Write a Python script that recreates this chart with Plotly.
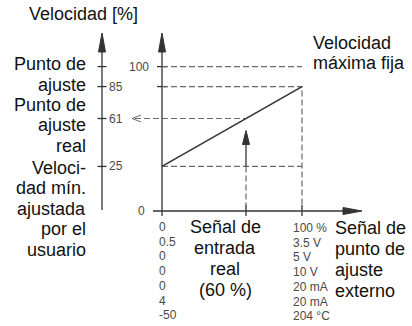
import plotly.graph_objects as go

# datos del diagrama
senal = [0, 100]          # señal de punto de ajuste externo [%]
velocidad = [25, 85]      # velocidad [%]
senal_real = 60
velocidad_real = 61
velocidad_max = 100
ticks_izq = [25, 61, 85]
ticks_izq_txt = ["25", "61", "85"]
ticks_eje = [0, 100]
ticks_eje_txt = ["0", "100"]
senal_min_txt = ["0", "0.5", "0", "0", "0", "4", "-50"]
senal_max_txt = ["100 %", "3.5 V", "5 V", "10 V", "20 mA", "20 mA", "204 °C"]

W, H = 412, 326
ML, MR, MT, MB = 92, 40, 28, 100
X0_PX, X_ESC = 162, 1.4       # pixel del 0 en x, px por unidad
Y0_PX, Y_ESC = 199.7, 1.331   # pixel del 0 en y, px por unidad
EJE_PX = 211                  # el eje x va en la base (esquemático)


def px2x(px):
    return (px - X0_PX) / X_ESC


def px2y(py):
    return (Y0_PX - py) / Y_ESC


def x2px(x):
    return X0_PX + x * X_ESC


def y2px(y):
    return Y0_PX - y * Y_ESC


eje_y = px2y(EJE_PX)

OSCURO = "#333333"
GRIS = "#6a6a6a"
TXT = "#111111"
TXT_GRIS = "#4a4a4a"
FUENTE = "Liberation Sans, Arial, sans-serif"
DASH = "6px,3px"

fig = go.Figure()


def linea(xs, ys, color=OSCURO, width=1.3, dash="solid"):
    fig.add_trace(go.Scatter(x=xs, y=ys, mode="lines", hoverinfo="skip",
                             line=dict(color=color, width=width, dash=dash)))


def punta(tx, ty, direc, largo=19, media=3.5):
    # punta de flecha rellena, medidas en px
    px, py = x2px(tx), y2px(ty)
    if direc == "arriba":
        xs = [px - media, px, px + media, px - media]
        ys = [py + largo, py, py + largo, py + largo]
    else:
        xs = [px - largo, px, px - largo, px - largo]
        ys = [py - media, py, py + media, py - media]
    fig.add_trace(go.Scatter(x=[px2x(v) for v in xs], y=[px2y(v) for v in ys],
                             mode="lines", fill="toself", fillcolor=OSCURO,
                             line=dict(color=OSCURO, width=1), hoverinfo="skip"))


x_izq = px2x(102)

# ejes
linea([0, 0], [px2y(EJE_PX + 5), px2y(50)])
punta(0, px2y(33), "arriba")
linea([x_izq, x_izq], [px2y(EJE_PX - 1), px2y(50)])
punta(x_izq, px2y(33), "arriba")
linea([px2x(153), px2x(345)], [eje_y, eje_y])
punta(px2x(362), eje_y, "derecha")

# marcas
for v in [velocidad_max, velocidad[1]]:
    linea([px2x(157), px2x(167)], [v, v])
for v in [velocidad_max] + ticks_izq:
    linea([x_izq - 4.5 / X_ESC, x_izq + 4.5 / X_ESC], [v, v])
for v in [senal_real, senal[1]]:
    linea([v, v], [px2y(EJE_PX - 6), px2y(EJE_PX + 5)])

# líneas de referencia discontinuas
linea([0, senal[1]], [velocidad_max, velocidad_max], GRIS, 1.2, DASH)
linea([0, senal[1], senal[1]], [velocidad[1], velocidad[1], eje_y], GRIS, 1.2, DASH)
linea([0, senal[1]], [velocidad[0], velocidad[0]], GRIS, 1.2, DASH)
linea([px2x(135), senal_real], [velocidad_real, velocidad_real], GRIS, 1.2, DASH)
linea([senal_real, senal_real], [velocidad[0], eje_y], GRIS, 1.2, DASH)

# flecha abierta hacia la izquierda
ych = y2px(velocidad_real)
linea([px2x(141), px2x(132), px2x(141)], [px2y(ych - 3.5), velocidad_real, px2y(ych + 3.5)],
      GRIS, 1)

# flecha de la señal real
tip_y = px2y(y2px(velocidad_real) + 12)
linea([senal_real, senal_real], [velocidad[0], px2y(y2px(tip_y) + 12)], OSCURO, 1.3)
punta(senal_real, tip_y, "arriba", largo=14, media=3.5)

# curva
linea(senal, velocidad, OSCURO, 1.6)

anot = []


def texto(lineas, px, py0, dy, anchor, size=18, color=TXT):
    # texto en coordenadas de papel a partir de píxeles
    for i, t in enumerate(lineas):
        anot.append(dict(x=(px - ML) / (W - ML - MR),
                         y=(H - MB - (py0 + i * dy)) / (H - MT - MB),
                         xref="paper", yref="paper",
                         text=t, showarrow=False, xanchor=anchor, yanchor="middle",
                         font=dict(size=size, color=color, family=FUENTE)))


texto(["Velocidad [%]"], 27, 14, 0, "left")
texto(["Punto de", "ajuste"], 88, 64, 20.5, "right")
texto(["Punto de", "ajuste", "real"], 88, 104.5, 20.5, "right")
texto(["Veloci-", "dad mín.", "ajustada", "por el", "usuario"], 88, 167.5, 20.5, "right")
texto(["Velocidad", "máxima fija"], 311, 43, 20, "left")
texto(["Señal de", "entrada", "real", "(60 %)"], 225, 227, 21, "center")
texto(["Señal de", "punto de", "ajuste", "externo"], 333, 228, 21, "left")

# etiquetas pequeñas
for v, t in zip(ticks_izq, ticks_izq_txt):
    texto([t], 107, y2px(v), 0, "left", 12, TXT_GRIS)
for v, t in zip(ticks_eje, ticks_eje_txt):
    texto([t], 151 if v else 147, y2px(v) if v else EJE_PX, 0, "right", 12, TXT_GRIS)
texto(senal_min_txt, 157, 227, 14.7, "left", 12, TXT_GRIS)
texto(senal_max_txt, 291, 228, 14.7, "left", 12, TXT_GRIS)

fig.update_layout(
    width=W, height=H,
    margin=dict(l=ML, r=MR, t=MT, b=MB),
    paper_bgcolor="white", plot_bgcolor="white",
    showlegend=False,
    xaxis=dict(range=[px2x(ML), px2x(W - MR)], visible=False, fixedrange=True),
    yaxis=dict(range=[px2y(H - MB), px2y(MT)], visible=False, fixedrange=True),
    annotations=anot,
)
fig.write_html("out.html", config={"displayModeBar": False},
               post_script="document.body.style.margin='0';")
